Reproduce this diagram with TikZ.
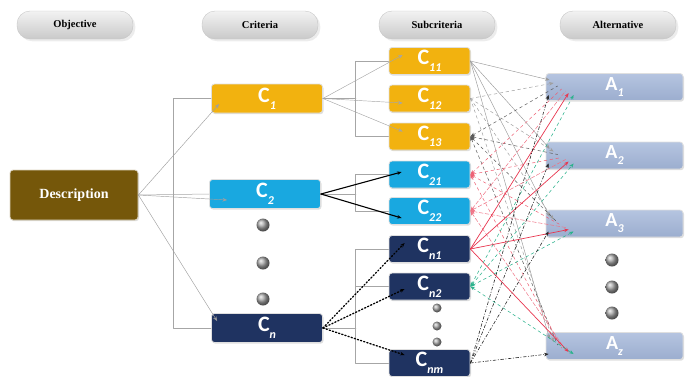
\documentclass[tikz,border=0pt]{standalone}
\usepackage{fontspec}
\setmainfont{Liberation Serif}
\newfontfamily\calfont{Carlito}
\usetikzlibrary{arrows.meta,shadows}
\definecolor{wwzzqq}{rgb}{0.46,0.34,0.04}
\definecolor{ffbbqq}{rgb}{0.95,0.70,0.06}
\definecolor{qqccff}{rgb}{0.10,0.66,0.88}
\definecolor{qqttww}{rgb}{0.12,0.20,0.38}
\definecolor{bbccee}{rgb}{0.71,0.77,0.88}
\definecolor{ccddee}{rgb}{0.61,0.68,0.81}
\definecolor{eeqqww}{rgb}{0.91,0.21,0.31}
\definecolor{qqbbww}{rgb}{0.17,0.70,0.55}
\newcommand{\csub}[2]{#1\raisebox{-0.3em}{\fontsize{12}{12}\selectfont\itshape #2}}

\begin{document}
\begin{tikzpicture}[line cap=round,line join=round,>={Stealth[length=4.5pt,width=3.5pt]},x=1pt,y=-1pt,
	head/.style={rounded corners=13pt,draw=gray!45,top color=gray!10,bottom color=gray!42,minimum width=116pt,minimum height=28pt,inner sep=0pt,font=\fontsize{10.5}{12}\selectfont\bfseries,drop shadow={opacity=0.15}},
	box/.style={rounded corners=3pt,draw=white!75!gray,line width=0.8pt,inner sep=0pt,text=white,font=\calfont\bfseries\fontsize{22}{24}\selectfont,drop shadow={opacity=0.25,shadow xshift=1pt,shadow yshift=-1.2pt}},
	crit/.style={box,minimum width=111pt,minimum height=29pt},
	subc/.style={box,minimum width=81pt,minimum height=27pt},
	alt/.style={box,minimum width=137pt,minimum height=27pt,top color=bbccee,bottom color=ccddee,font=\calfont\bfseries\fontsize{20}{22}\selectfont},
	tree/.style={draw=gray!70,line width=0.5pt},
	desclink/.style={draw=gray!75,line width=0.45pt,->},
	c1link/.style={draw=gray!70,line width=0.45pt,->},
	c2link/.style={draw=black,line width=1.1pt,->},
	cnlink/.style={draw=black,line width=1.3pt,dotted,->},
	lc11/.style={draw=gray!80,line width=0.45pt,->},
	lc12/.style={draw=gray!75,line width=0.5pt,dashed,->},
	lc13/.style={draw=black!65,line width=0.5pt,dashed,<-},
	lc21/.style={draw=eeqqww!80,line width=0.5pt,dashed,<-},
	lc22/.style={draw=eeqqww!70,line width=0.5pt,dash pattern=on 4pt off 2pt,<-},
	lcn1/.style={draw=eeqqww,line width=0.7pt,->},
	lcn2/.style={draw=qqbbww,line width=0.55pt,dashed,<->},
	lcnm/.style={draw=black!85,line width=0.6pt,dash dot,->}]
		\clip (0,0) rectangle (690,376);
		\node[head] (hobj) at (75,25) {Objective};
		\node[head] (hcrit) at (260,25) {Criteria};
		\node[head] (hsub) at (437,25) {Subcriteria};
		\node[head] (halt) at (618,25) {Alternative};
		\node[box,fill=wwzzqq,draw=wwzzqq!25,minimum width=128pt,minimum height=50pt,font=\fontsize{14}{16}\selectfont\bfseries] (desc) at (74,195) {Description};
		\node[crit,fill=ffbbqq] (c1) at (267,98.5) {\csub{C}{1}};
		\node[crit,fill=qqccff] (c2) at (265,194) {\csub{C}{2}};
		\node[crit,fill=qqttww] (cn) at (267,328) {\csub{C}{n}};
		\node[subc,fill=ffbbqq] (c11) at (429.5,61) {\csub{C}{11}};
		\node[subc,fill=ffbbqq] (c12) at (429.5,98.5) {\csub{C}{12}};
		\node[subc,fill=ffbbqq] (c13) at (429.5,136.5) {\csub{C}{13}};
		\node[subc,fill=qqccff] (c21) at (429.5,174.5) {\csub{C}{21}};
		\node[subc,fill=qqccff] (c22) at (429.5,211) {\csub{C}{22}};
		\node[subc,fill=qqttww] (cn1) at (429.5,249) {\csub{C}{n1}};
		\node[subc,fill=qqttww] (cn2) at (429.5,286.5) {\csub{C}{n2}};
		\node[subc,fill=qqttww] (cnm) at (429.5,363) {\csub{C}{nm}};
		\node[alt] (a1) at (614.5,87) {\csub{A}{1}};
		\node[alt] (a2) at (614.5,155.5) {\csub{A}{2}};
		\node[alt] (a3) at (614.5,223.5) {\csub{A}{3}};
		\node[alt] (az) at (614.5,346) {\csub{A}{z}};
		\shade[ball color=gray!70] (263,225) circle (6.5pt);
		\shade[ball color=gray!70] (263,263) circle (6.5pt);
		\shade[ball color=gray!70] (263,299) circle (6.5pt);
		\shade[ball color=gray!70] (437,308) circle (4.5pt);
		\shade[ball color=gray!70] (437,326) circle (4.5pt);
		\shade[ball color=gray!70] (437,342) circle (4.5pt);
		\shade[ball color=gray!70] (612,260) circle (6.5pt);
		\shade[ball color=gray!70] (612,287) circle (6.5pt);
		\shade[ball color=gray!70] (612,313) circle (6.5pt);
		\draw[tree] (c1.west) -- ++(-38,0) |- (cn.west);
		\draw[tree] (desc.east) -- (c2.west);
		\draw[tree] (c11.west) -- ++(-33,0) |- (c13.west);
		\draw[tree] (c1.east) -- ++(33,0);
		\draw[tree] (c21.west) -- ++(-33,0) |- (c22.west);
		\draw[tree] (c2.east) -- ++(35,0);
		\draw[tree] (cn1.west) -- ++(-33,0) |- (cnm.west);
		\draw[tree] (cn2.west) -- ++(-33,0);
		\draw[tree] (cn.east) -- ++(33,0);
		\draw[desclink] (desc.east) -- ([xshift=8pt,yshift=-5.5pt]c1.west);
		\draw[desclink] (desc.east) -- ([xshift=18pt,yshift=-6pt]c2.west);
		\draw[desclink] (desc.east) -- ([xshift=6pt,yshift=7pt]cn.west);
		\draw[c1link] (c1.east) -- ([xshift=14pt,yshift=6pt]c11.west);
		\draw[c1link] (c1.east) -- ([xshift=14pt,yshift=-4.5pt]c12.west);
		\draw[c1link] (c1.east) -- ([xshift=14pt,yshift=5pt]c13.west);
		\draw[c2link] (c2.east) -- ([xshift=13pt,yshift=2.5pt]c21.west);
		\draw[c2link] (c2.east) -- ([xshift=13pt,yshift=-7pt]c22.west);
		\draw[cnlink] (cn.east) -- ([xshift=16pt,yshift=6pt]cn1.west);
		\draw[cnlink] (cn.east) -- ([xshift=16pt,yshift=-2.5pt]cn2.west);
		\draw[cnlink] (cn.east) -- ([xshift=16pt,yshift=8pt]cnm.west);
		\foreach \s/\dx/\dy in {c11/4/7,c12/8/4,c13/12/1,c21/16/-2,c22/20/-4,cn1/23/-6,cn2/28/-8,cnm/3/-8}
			\foreach \a in {a1,a2,a3,az}
				\draw[l\s] (\s.east) -- ([xshift=\dx pt,yshift=\dy pt]\a.west);
	\end{tikzpicture}
\end{document}
